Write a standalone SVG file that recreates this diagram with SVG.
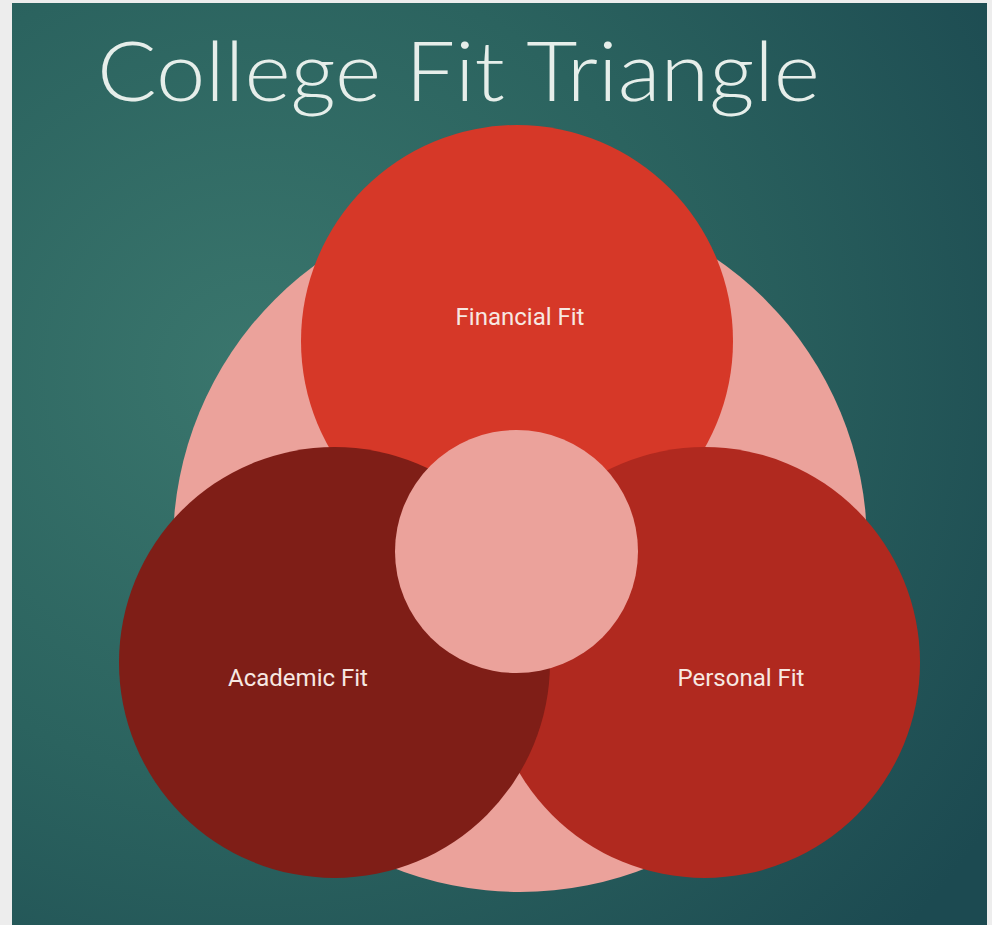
<svg xmlns="http://www.w3.org/2000/svg" width="992" height="925" viewBox="0 0 992 925">
  <defs>
    <radialGradient id="bg" cx="0.25" cy="0.4" r="0.9" fx="0.25" fy="0.4">
      <stop offset="0" stop-color="#3A766D"/>
      <stop offset="0.5" stop-color="#2B635F"/>
      <stop offset="1" stop-color="#1C4A51"/>
    </radialGradient>
    <style>
      .label { font-family: Roboto, "Liberation Sans", sans-serif; font-size: 24px; fill: #F7E8E2; text-anchor: middle; }
      .title { font-family: Lato, "Open Sans", "Liberation Sans", sans-serif; font-weight: 300; font-size: 82px; fill: #E6EEEA; }
      .pink { fill: #EBA29B; }
    </style>
  </defs>
  <rect x="0" y="0" width="992" height="925" fill="#EDEDED"/>
  <rect x="12" y="3" width="975" height="922" fill="url(#bg)"/>
  <text class="title" x="97" y="101" textLength="723" lengthAdjust="spacingAndGlyphs">College Fit Triangle</text>
  <g id="outer">
    <circle class="pink" cx="520" cy="545" r="347"/>
  </g>
  <g id="financial">
    <circle cx="517" cy="341" r="216" fill="#D63828"/>
    <text class="label" x="520" y="325">Financial Fit</text>
  </g>
  <g id="personal">
    <circle cx="704.5" cy="662.5" r="215.5" fill="#B0291F"/>
    <text class="label" x="741" y="686">Personal Fit</text>
  </g>
  <g id="academic">
    <circle cx="334.5" cy="662.5" r="215.5" fill="#7F1E17"/>
    <text class="label" x="298" y="686">Academic Fit</text>
  </g>
  <g id="center">
    <circle class="pink" cx="516.5" cy="551.5" r="121.5"/>
  </g>
  <g id="connectors"/>
</svg>
